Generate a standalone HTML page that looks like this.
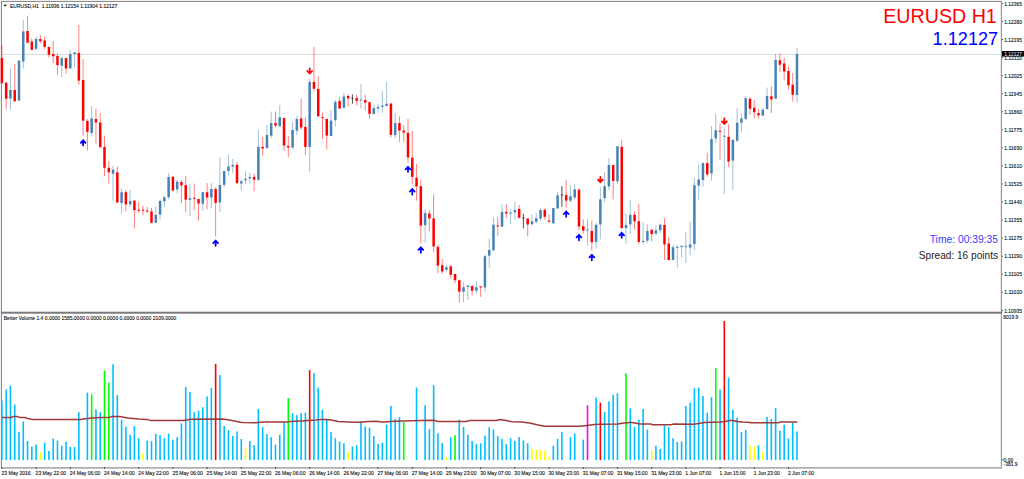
<!DOCTYPE html>
<html><head><meta charset="utf-8"><title>EURUSD H1</title>
<style>
html,body{margin:0;padding:0;background:#fff;width:1024px;height:479px;overflow:hidden;font-family:"Liberation Sans",sans-serif;}
svg{display:block;}
</style></head><body>
<svg width="1024" height="479" viewBox="0 0 1024 479" shape-rendering="auto">
<rect x="0" y="0" width="1024" height="479" fill="#ffffff"/>
<rect x="0" y="0" width="1002" height="1" fill="#f0f0f0"/>
<rect x="0" y="0" width="1" height="469" fill="#f0f0f0"/>
<rect x="1" y="1" width="1" height="467" fill="#8a8a8a"/>
<line x1="2" y1="54.4" x2="1001" y2="54.4" stroke="#d0d0d0" stroke-width="0.8"/>
<line x1="1.90" y1="45.00" x2="1.90" y2="84.00" stroke="#FF0000" stroke-opacity="0.5" stroke-width="1.0"/>
<line x1="6.17" y1="81.50" x2="6.17" y2="109.40" stroke="#FF0000" stroke-opacity="0.5" stroke-width="1.0"/>
<line x1="10.45" y1="67.75" x2="10.45" y2="109.40" stroke="#4682B4" stroke-opacity="0.5" stroke-width="1.0"/>
<line x1="14.72" y1="63.75" x2="14.72" y2="101.50" stroke="#FF0000" stroke-opacity="0.5" stroke-width="1.0"/>
<line x1="19.00" y1="60.60" x2="19.00" y2="100.60" stroke="#4682B4" stroke-opacity="0.5" stroke-width="1.0"/>
<line x1="23.27" y1="19.75" x2="23.27" y2="68.50" stroke="#4682B4" stroke-opacity="0.5" stroke-width="1.0"/>
<line x1="27.55" y1="16.25" x2="27.55" y2="43.00" stroke="#FF0000" stroke-opacity="0.5" stroke-width="1.0"/>
<line x1="31.82" y1="38.50" x2="31.82" y2="50.25" stroke="#FF0000" stroke-opacity="0.5" stroke-width="1.0"/>
<line x1="36.10" y1="36.90" x2="36.10" y2="50.25" stroke="#4682B4" stroke-opacity="0.5" stroke-width="1.0"/>
<line x1="40.37" y1="35.00" x2="40.37" y2="43.75" stroke="#FF0000" stroke-opacity="0.5" stroke-width="1.0"/>
<line x1="44.65" y1="36.90" x2="44.65" y2="49.40" stroke="#FF0000" stroke-opacity="0.5" stroke-width="1.0"/>
<line x1="48.92" y1="46.90" x2="48.92" y2="57.50" stroke="#FF0000" stroke-opacity="0.5" stroke-width="1.0"/>
<line x1="53.20" y1="41.00" x2="53.20" y2="63.10" stroke="#FF0000" stroke-opacity="0.5" stroke-width="1.0"/>
<line x1="57.47" y1="53.75" x2="57.47" y2="74.75" stroke="#FF0000" stroke-opacity="0.5" stroke-width="1.0"/>
<line x1="61.75" y1="56.25" x2="61.75" y2="76.90" stroke="#4682B4" stroke-opacity="0.5" stroke-width="1.0"/>
<line x1="66.02" y1="58.10" x2="66.02" y2="73.75" stroke="#FF0000" stroke-opacity="0.5" stroke-width="1.0"/>
<line x1="70.30" y1="50.00" x2="70.30" y2="68.50" stroke="#4682B4" stroke-opacity="0.5" stroke-width="1.0"/>
<line x1="74.57" y1="52.25" x2="74.57" y2="67.50" stroke="#4682B4" stroke-opacity="0.5" stroke-width="1.0"/>
<line x1="78.84" y1="25.00" x2="78.84" y2="84.40" stroke="#FF0000" stroke-opacity="0.5" stroke-width="1.0"/>
<line x1="83.12" y1="59.10" x2="83.12" y2="135.60" stroke="#FF0000" stroke-opacity="0.5" stroke-width="1.0"/>
<line x1="87.39" y1="119.00" x2="87.39" y2="150.60" stroke="#FF0000" stroke-opacity="0.5" stroke-width="1.0"/>
<line x1="91.67" y1="106.25" x2="91.67" y2="136.50" stroke="#4682B4" stroke-opacity="0.5" stroke-width="1.0"/>
<line x1="95.94" y1="108.75" x2="95.94" y2="143.50" stroke="#FF0000" stroke-opacity="0.5" stroke-width="1.0"/>
<line x1="100.22" y1="113.00" x2="100.22" y2="147.50" stroke="#FF0000" stroke-opacity="0.5" stroke-width="1.0"/>
<line x1="104.49" y1="135.60" x2="104.49" y2="176.00" stroke="#FF0000" stroke-opacity="0.5" stroke-width="1.0"/>
<line x1="108.77" y1="161.00" x2="108.77" y2="183.50" stroke="#FF0000" stroke-opacity="0.5" stroke-width="1.0"/>
<line x1="113.04" y1="165.60" x2="113.04" y2="200.60" stroke="#4682B4" stroke-opacity="0.5" stroke-width="1.0"/>
<line x1="117.32" y1="166.50" x2="117.32" y2="202.75" stroke="#FF0000" stroke-opacity="0.5" stroke-width="1.0"/>
<line x1="121.59" y1="188.50" x2="121.59" y2="213.50" stroke="#4682B4" stroke-opacity="0.5" stroke-width="1.0"/>
<line x1="125.87" y1="189.75" x2="125.87" y2="211.50" stroke="#FF0000" stroke-opacity="0.5" stroke-width="1.0"/>
<line x1="130.14" y1="190.00" x2="130.14" y2="207.00" stroke="#4682B4" stroke-opacity="0.5" stroke-width="1.0"/>
<line x1="134.42" y1="200.25" x2="134.42" y2="228.50" stroke="#FF0000" stroke-opacity="0.5" stroke-width="1.0"/>
<line x1="138.69" y1="201.90" x2="138.69" y2="213.10" stroke="#FF0000" stroke-opacity="0.5" stroke-width="1.0"/>
<line x1="142.97" y1="205.60" x2="142.97" y2="215.30" stroke="#FF0000" stroke-opacity="0.5" stroke-width="1.0"/>
<line x1="147.24" y1="206.90" x2="147.24" y2="213.10" stroke="#FF0000" stroke-opacity="0.5" stroke-width="1.0"/>
<line x1="151.51" y1="207.90" x2="151.51" y2="223.50" stroke="#FF0000" stroke-opacity="0.5" stroke-width="1.0"/>
<line x1="155.79" y1="206.10" x2="155.79" y2="223.00" stroke="#4682B4" stroke-opacity="0.5" stroke-width="1.0"/>
<line x1="160.06" y1="199.40" x2="160.06" y2="219.40" stroke="#4682B4" stroke-opacity="0.5" stroke-width="1.0"/>
<line x1="164.34" y1="196.50" x2="164.34" y2="206.70" stroke="#4682B4" stroke-opacity="0.5" stroke-width="1.0"/>
<line x1="168.61" y1="173.10" x2="168.61" y2="199.40" stroke="#4682B4" stroke-opacity="0.5" stroke-width="1.0"/>
<line x1="172.89" y1="176.70" x2="172.89" y2="191.25" stroke="#FF0000" stroke-opacity="0.5" stroke-width="1.0"/>
<line x1="177.16" y1="180.10" x2="177.16" y2="193.30" stroke="#4682B4" stroke-opacity="0.5" stroke-width="1.0"/>
<line x1="181.44" y1="179.90" x2="181.44" y2="203.10" stroke="#FF0000" stroke-opacity="0.5" stroke-width="1.0"/>
<line x1="185.71" y1="176.00" x2="185.71" y2="212.25" stroke="#FF0000" stroke-opacity="0.5" stroke-width="1.0"/>
<line x1="189.99" y1="184.20" x2="189.99" y2="216.25" stroke="#4682B4" stroke-opacity="0.5" stroke-width="1.0"/>
<line x1="194.26" y1="183.50" x2="194.26" y2="210.00" stroke="#FF0000" stroke-opacity="0.5" stroke-width="1.0"/>
<line x1="198.54" y1="198.75" x2="198.54" y2="220.60" stroke="#FF0000" stroke-opacity="0.5" stroke-width="1.0"/>
<line x1="202.81" y1="191.90" x2="202.81" y2="210.60" stroke="#4682B4" stroke-opacity="0.5" stroke-width="1.0"/>
<line x1="207.09" y1="183.10" x2="207.09" y2="209.40" stroke="#FF0000" stroke-opacity="0.5" stroke-width="1.0"/>
<line x1="211.36" y1="183.10" x2="211.36" y2="208.30" stroke="#4682B4" stroke-opacity="0.5" stroke-width="1.0"/>
<line x1="215.64" y1="187.25" x2="215.64" y2="236.25" stroke="#FF0000" stroke-opacity="0.5" stroke-width="1.0"/>
<line x1="219.91" y1="157.25" x2="219.91" y2="212.25" stroke="#4682B4" stroke-opacity="0.5" stroke-width="1.0"/>
<line x1="224.18" y1="171.00" x2="224.18" y2="187.25" stroke="#4682B4" stroke-opacity="0.5" stroke-width="1.0"/>
<line x1="228.46" y1="154.40" x2="228.46" y2="175.60" stroke="#4682B4" stroke-opacity="0.5" stroke-width="1.0"/>
<line x1="232.73" y1="159.00" x2="232.73" y2="173.50" stroke="#4682B4" stroke-opacity="0.5" stroke-width="1.0"/>
<line x1="237.01" y1="162.25" x2="237.01" y2="184.00" stroke="#FF0000" stroke-opacity="0.5" stroke-width="1.0"/>
<line x1="241.28" y1="179.40" x2="241.28" y2="190.60" stroke="#4682B4" stroke-opacity="0.5" stroke-width="1.0"/>
<line x1="245.56" y1="171.25" x2="245.56" y2="184.40" stroke="#4682B4" stroke-opacity="0.5" stroke-width="1.0"/>
<line x1="249.83" y1="172.50" x2="249.83" y2="183.50" stroke="#4682B4" stroke-opacity="0.5" stroke-width="1.0"/>
<line x1="254.11" y1="173.50" x2="254.11" y2="191.25" stroke="#FF0000" stroke-opacity="0.5" stroke-width="1.0"/>
<line x1="258.38" y1="130.00" x2="258.38" y2="181.25" stroke="#4682B4" stroke-opacity="0.5" stroke-width="1.0"/>
<line x1="262.66" y1="136.90" x2="262.66" y2="155.60" stroke="#FF0000" stroke-opacity="0.5" stroke-width="1.0"/>
<line x1="266.93" y1="125.00" x2="266.93" y2="148.50" stroke="#4682B4" stroke-opacity="0.5" stroke-width="1.0"/>
<line x1="271.21" y1="111.50" x2="271.21" y2="138.10" stroke="#4682B4" stroke-opacity="0.5" stroke-width="1.0"/>
<line x1="275.48" y1="111.50" x2="275.48" y2="127.50" stroke="#FF0000" stroke-opacity="0.5" stroke-width="1.0"/>
<line x1="279.76" y1="104.75" x2="279.76" y2="126.50" stroke="#4682B4" stroke-opacity="0.5" stroke-width="1.0"/>
<line x1="284.03" y1="117.75" x2="284.03" y2="150.60" stroke="#FF0000" stroke-opacity="0.5" stroke-width="1.0"/>
<line x1="288.30" y1="136.00" x2="288.30" y2="157.25" stroke="#FF0000" stroke-opacity="0.5" stroke-width="1.0"/>
<line x1="292.58" y1="121.90" x2="292.58" y2="149.00" stroke="#4682B4" stroke-opacity="0.5" stroke-width="1.0"/>
<line x1="296.85" y1="116.00" x2="296.85" y2="134.75" stroke="#4682B4" stroke-opacity="0.5" stroke-width="1.0"/>
<line x1="301.13" y1="98.75" x2="301.13" y2="129.40" stroke="#FF0000" stroke-opacity="0.5" stroke-width="1.0"/>
<line x1="305.40" y1="117.50" x2="305.40" y2="155.00" stroke="#FF0000" stroke-opacity="0.5" stroke-width="1.0"/>
<line x1="309.68" y1="78.10" x2="309.68" y2="172.20" stroke="#4682B4" stroke-opacity="0.5" stroke-width="1.0"/>
<line x1="313.95" y1="46.90" x2="313.95" y2="91.25" stroke="#FF0000" stroke-opacity="0.5" stroke-width="1.0"/>
<line x1="318.23" y1="76.25" x2="318.23" y2="117.00" stroke="#FF0000" stroke-opacity="0.5" stroke-width="1.0"/>
<line x1="322.50" y1="112.60" x2="322.50" y2="139.00" stroke="#FF0000" stroke-opacity="0.5" stroke-width="1.0"/>
<line x1="326.78" y1="118.75" x2="326.78" y2="149.40" stroke="#FF0000" stroke-opacity="0.5" stroke-width="1.0"/>
<line x1="331.05" y1="110.00" x2="331.05" y2="136.25" stroke="#4682B4" stroke-opacity="0.5" stroke-width="1.0"/>
<line x1="335.33" y1="100.00" x2="335.33" y2="126.50" stroke="#4682B4" stroke-opacity="0.5" stroke-width="1.0"/>
<line x1="339.60" y1="96.90" x2="339.60" y2="109.00" stroke="#FF0000" stroke-opacity="0.5" stroke-width="1.0"/>
<line x1="343.88" y1="92.75" x2="343.88" y2="108.00" stroke="#4682B4" stroke-opacity="0.5" stroke-width="1.0"/>
<line x1="348.15" y1="94.00" x2="348.15" y2="106.40" stroke="#FF0000" stroke-opacity="0.5" stroke-width="1.0"/>
<line x1="352.43" y1="94.40" x2="352.43" y2="103.75" stroke="#202020" stroke-opacity="0.8" stroke-width="1.0"/>
<line x1="356.70" y1="94.40" x2="356.70" y2="105.40" stroke="#FF0000" stroke-opacity="0.5" stroke-width="1.0"/>
<line x1="360.97" y1="84.00" x2="360.97" y2="108.50" stroke="#4682B4" stroke-opacity="0.5" stroke-width="1.0"/>
<line x1="365.25" y1="94.60" x2="365.25" y2="110.10" stroke="#FF0000" stroke-opacity="0.5" stroke-width="1.0"/>
<line x1="369.52" y1="101.90" x2="369.52" y2="118.75" stroke="#FF0000" stroke-opacity="0.5" stroke-width="1.0"/>
<line x1="373.80" y1="104.75" x2="373.80" y2="114.40" stroke="#4682B4" stroke-opacity="0.5" stroke-width="1.0"/>
<line x1="378.07" y1="103.50" x2="378.07" y2="112.75" stroke="#4682B4" stroke-opacity="0.5" stroke-width="1.0"/>
<line x1="382.35" y1="91.25" x2="382.35" y2="112.75" stroke="#4682B4" stroke-opacity="0.5" stroke-width="1.0"/>
<line x1="386.62" y1="81.90" x2="386.62" y2="106.25" stroke="#4682B4" stroke-opacity="0.5" stroke-width="1.0"/>
<line x1="390.90" y1="103.10" x2="390.90" y2="137.50" stroke="#FF0000" stroke-opacity="0.5" stroke-width="1.0"/>
<line x1="395.17" y1="112.75" x2="395.17" y2="138.50" stroke="#4682B4" stroke-opacity="0.5" stroke-width="1.0"/>
<line x1="399.45" y1="116.25" x2="399.45" y2="141.90" stroke="#FF0000" stroke-opacity="0.5" stroke-width="1.0"/>
<line x1="403.72" y1="125.25" x2="403.72" y2="141.90" stroke="#FF0000" stroke-opacity="0.5" stroke-width="1.0"/>
<line x1="408.00" y1="119.00" x2="408.00" y2="162.50" stroke="#FF0000" stroke-opacity="0.5" stroke-width="1.0"/>
<line x1="412.27" y1="131.00" x2="412.27" y2="184.60" stroke="#FF0000" stroke-opacity="0.5" stroke-width="1.0"/>
<line x1="416.55" y1="164.00" x2="416.55" y2="200.60" stroke="#FF0000" stroke-opacity="0.5" stroke-width="1.0"/>
<line x1="420.82" y1="180.00" x2="420.82" y2="243.50" stroke="#FF0000" stroke-opacity="0.5" stroke-width="1.0"/>
<line x1="425.10" y1="209.00" x2="425.10" y2="242.50" stroke="#4682B4" stroke-opacity="0.5" stroke-width="1.0"/>
<line x1="429.37" y1="210.00" x2="429.37" y2="231.25" stroke="#FF0000" stroke-opacity="0.5" stroke-width="1.0"/>
<line x1="433.64" y1="194.40" x2="433.64" y2="252.25" stroke="#FF0000" stroke-opacity="0.5" stroke-width="1.0"/>
<line x1="437.92" y1="245.25" x2="437.92" y2="273.10" stroke="#FF0000" stroke-opacity="0.5" stroke-width="1.0"/>
<line x1="442.19" y1="259.00" x2="442.19" y2="274.00" stroke="#FF0000" stroke-opacity="0.5" stroke-width="1.0"/>
<line x1="446.47" y1="265.00" x2="446.47" y2="272.25" stroke="#4682B4" stroke-opacity="0.5" stroke-width="1.0"/>
<line x1="450.74" y1="265.25" x2="450.74" y2="278.50" stroke="#FF0000" stroke-opacity="0.5" stroke-width="1.0"/>
<line x1="455.02" y1="273.75" x2="455.02" y2="283.50" stroke="#FF0000" stroke-opacity="0.5" stroke-width="1.0"/>
<line x1="459.29" y1="279.75" x2="459.29" y2="302.50" stroke="#FF0000" stroke-opacity="0.5" stroke-width="1.0"/>
<line x1="463.57" y1="281.90" x2="463.57" y2="302.50" stroke="#4682B4" stroke-opacity="0.5" stroke-width="1.0"/>
<line x1="467.84" y1="285.25" x2="467.84" y2="299.75" stroke="#4682B4" stroke-opacity="0.5" stroke-width="1.0"/>
<line x1="472.12" y1="285.25" x2="472.12" y2="295.60" stroke="#FF0000" stroke-opacity="0.5" stroke-width="1.0"/>
<line x1="476.39" y1="281.00" x2="476.39" y2="293.75" stroke="#4682B4" stroke-opacity="0.5" stroke-width="1.0"/>
<line x1="480.67" y1="286.25" x2="480.67" y2="296.90" stroke="#FF0000" stroke-opacity="0.5" stroke-width="1.0"/>
<line x1="484.94" y1="255.00" x2="484.94" y2="291.50" stroke="#4682B4" stroke-opacity="0.5" stroke-width="1.0"/>
<line x1="489.22" y1="239.00" x2="489.22" y2="267.75" stroke="#4682B4" stroke-opacity="0.5" stroke-width="1.0"/>
<line x1="493.49" y1="216.90" x2="493.49" y2="251.00" stroke="#4682B4" stroke-opacity="0.5" stroke-width="1.0"/>
<line x1="497.77" y1="217.50" x2="497.77" y2="235.50" stroke="#FF0000" stroke-opacity="0.5" stroke-width="1.0"/>
<line x1="502.04" y1="204.40" x2="502.04" y2="227.00" stroke="#4682B4" stroke-opacity="0.5" stroke-width="1.0"/>
<line x1="506.31" y1="204.00" x2="506.31" y2="217.90" stroke="#FF0000" stroke-opacity="0.5" stroke-width="1.0"/>
<line x1="510.59" y1="209.00" x2="510.59" y2="224.40" stroke="#4682B4" stroke-opacity="0.5" stroke-width="1.0"/>
<line x1="514.86" y1="201.90" x2="514.86" y2="220.00" stroke="#4682B4" stroke-opacity="0.5" stroke-width="1.0"/>
<line x1="519.14" y1="205.00" x2="519.14" y2="218.10" stroke="#FF0000" stroke-opacity="0.5" stroke-width="1.0"/>
<line x1="523.41" y1="213.75" x2="523.41" y2="228.40" stroke="#202020" stroke-opacity="0.8" stroke-width="1.0"/>
<line x1="527.69" y1="218.10" x2="527.69" y2="236.30" stroke="#FF0000" stroke-opacity="0.5" stroke-width="1.0"/>
<line x1="531.96" y1="214.75" x2="531.96" y2="224.60" stroke="#4682B4" stroke-opacity="0.5" stroke-width="1.0"/>
<line x1="536.24" y1="213.10" x2="536.24" y2="223.40" stroke="#4682B4" stroke-opacity="0.5" stroke-width="1.0"/>
<line x1="540.51" y1="208.10" x2="540.51" y2="221.20" stroke="#4682B4" stroke-opacity="0.5" stroke-width="1.0"/>
<line x1="544.79" y1="208.50" x2="544.79" y2="219.50" stroke="#FF0000" stroke-opacity="0.5" stroke-width="1.0"/>
<line x1="549.06" y1="214.50" x2="549.06" y2="222.50" stroke="#FF0000" stroke-opacity="0.5" stroke-width="1.0"/>
<line x1="553.34" y1="208.10" x2="553.34" y2="223.40" stroke="#4682B4" stroke-opacity="0.5" stroke-width="1.0"/>
<line x1="557.61" y1="191.90" x2="557.61" y2="208.50" stroke="#4682B4" stroke-opacity="0.5" stroke-width="1.0"/>
<line x1="561.89" y1="186.10" x2="561.89" y2="206.90" stroke="#202020" stroke-opacity="0.8" stroke-width="1.0"/>
<line x1="566.16" y1="180.00" x2="566.16" y2="207.75" stroke="#FF0000" stroke-opacity="0.5" stroke-width="1.0"/>
<line x1="570.44" y1="185.10" x2="570.44" y2="202.50" stroke="#4682B4" stroke-opacity="0.5" stroke-width="1.0"/>
<line x1="574.71" y1="183.60" x2="574.71" y2="199.40" stroke="#4682B4" stroke-opacity="0.5" stroke-width="1.0"/>
<line x1="578.98" y1="187.90" x2="578.98" y2="230.60" stroke="#FF0000" stroke-opacity="0.5" stroke-width="1.0"/>
<line x1="583.26" y1="219.20" x2="583.26" y2="233.60" stroke="#FF0000" stroke-opacity="0.5" stroke-width="1.0"/>
<line x1="587.53" y1="219.40" x2="587.53" y2="245.60" stroke="#4682B4" stroke-opacity="0.5" stroke-width="1.0"/>
<line x1="591.81" y1="220.60" x2="591.81" y2="250.60" stroke="#FF0000" stroke-opacity="0.5" stroke-width="1.0"/>
<line x1="596.08" y1="222.75" x2="596.08" y2="248.50" stroke="#4682B4" stroke-opacity="0.5" stroke-width="1.0"/>
<line x1="600.36" y1="186.90" x2="600.36" y2="239.40" stroke="#4682B4" stroke-opacity="0.5" stroke-width="1.0"/>
<line x1="604.63" y1="171.90" x2="604.63" y2="202.25" stroke="#4682B4" stroke-opacity="0.5" stroke-width="1.0"/>
<line x1="608.91" y1="158.10" x2="608.91" y2="190.00" stroke="#4682B4" stroke-opacity="0.5" stroke-width="1.0"/>
<line x1="613.18" y1="165.00" x2="613.18" y2="199.40" stroke="#FF0000" stroke-opacity="0.5" stroke-width="1.0"/>
<line x1="617.46" y1="146.00" x2="617.46" y2="184.00" stroke="#4682B4" stroke-opacity="0.5" stroke-width="1.0"/>
<line x1="621.73" y1="139.75" x2="621.73" y2="229.00" stroke="#FF0000" stroke-opacity="0.5" stroke-width="1.0"/>
<line x1="626.01" y1="213.75" x2="626.01" y2="243.50" stroke="#4682B4" stroke-opacity="0.5" stroke-width="1.0"/>
<line x1="630.28" y1="200.00" x2="630.28" y2="234.00" stroke="#4682B4" stroke-opacity="0.5" stroke-width="1.0"/>
<line x1="634.56" y1="211.30" x2="634.56" y2="229.75" stroke="#FF0000" stroke-opacity="0.5" stroke-width="1.0"/>
<line x1="638.83" y1="204.00" x2="638.83" y2="244.40" stroke="#FF0000" stroke-opacity="0.5" stroke-width="1.0"/>
<line x1="643.11" y1="222.25" x2="643.11" y2="244.40" stroke="#4682B4" stroke-opacity="0.5" stroke-width="1.0"/>
<line x1="647.38" y1="224.40" x2="647.38" y2="243.10" stroke="#4682B4" stroke-opacity="0.5" stroke-width="1.0"/>
<line x1="651.65" y1="229.40" x2="651.65" y2="241.50" stroke="#FF0000" stroke-opacity="0.5" stroke-width="1.0"/>
<line x1="655.93" y1="225.25" x2="655.93" y2="235.25" stroke="#4682B4" stroke-opacity="0.5" stroke-width="1.0"/>
<line x1="660.20" y1="223.50" x2="660.20" y2="232.75" stroke="#4682B4" stroke-opacity="0.5" stroke-width="1.0"/>
<line x1="664.48" y1="218.10" x2="664.48" y2="260.00" stroke="#FF0000" stroke-opacity="0.5" stroke-width="1.0"/>
<line x1="668.75" y1="237.25" x2="668.75" y2="260.60" stroke="#FF0000" stroke-opacity="0.5" stroke-width="1.0"/>
<line x1="673.03" y1="244.75" x2="673.03" y2="260.25" stroke="#4682B4" stroke-opacity="0.5" stroke-width="1.0"/>
<line x1="677.30" y1="245.20" x2="677.30" y2="267.60" stroke="#4682B4" stroke-opacity="0.5" stroke-width="1.0"/>
<line x1="681.58" y1="245.25" x2="681.58" y2="257.50" stroke="#4682B4" stroke-opacity="0.5" stroke-width="1.0"/>
<line x1="685.85" y1="231.90" x2="685.85" y2="263.10" stroke="#4682B4" stroke-opacity="0.5" stroke-width="1.0"/>
<line x1="690.13" y1="221.90" x2="690.13" y2="255.60" stroke="#4682B4" stroke-opacity="0.5" stroke-width="1.0"/>
<line x1="694.40" y1="177.75" x2="694.40" y2="250.25" stroke="#4682B4" stroke-opacity="0.5" stroke-width="1.0"/>
<line x1="698.68" y1="164.75" x2="698.68" y2="199.75" stroke="#4682B4" stroke-opacity="0.5" stroke-width="1.0"/>
<line x1="702.95" y1="162.50" x2="702.95" y2="186.50" stroke="#4682B4" stroke-opacity="0.5" stroke-width="1.0"/>
<line x1="707.23" y1="152.75" x2="707.23" y2="176.90" stroke="#FF0000" stroke-opacity="0.5" stroke-width="1.0"/>
<line x1="711.50" y1="126.00" x2="711.50" y2="180.60" stroke="#4682B4" stroke-opacity="0.5" stroke-width="1.0"/>
<line x1="715.77" y1="113.75" x2="715.77" y2="143.10" stroke="#4682B4" stroke-opacity="0.5" stroke-width="1.0"/>
<line x1="720.05" y1="123.50" x2="720.05" y2="159.75" stroke="#FF0000" stroke-opacity="0.5" stroke-width="1.0"/>
<line x1="724.32" y1="128.75" x2="724.32" y2="193.75" stroke="#4682B4" stroke-opacity="0.5" stroke-width="1.0"/>
<line x1="728.60" y1="124.40" x2="728.60" y2="166.90" stroke="#FF0000" stroke-opacity="0.5" stroke-width="1.0"/>
<line x1="732.87" y1="139.50" x2="732.87" y2="190.25" stroke="#4682B4" stroke-opacity="0.5" stroke-width="1.0"/>
<line x1="737.15" y1="107.75" x2="737.15" y2="141.90" stroke="#4682B4" stroke-opacity="0.5" stroke-width="1.0"/>
<line x1="741.42" y1="113.10" x2="741.42" y2="132.25" stroke="#4682B4" stroke-opacity="0.5" stroke-width="1.0"/>
<line x1="745.70" y1="96.00" x2="745.70" y2="120.00" stroke="#4682B4" stroke-opacity="0.5" stroke-width="1.0"/>
<line x1="749.97" y1="97.25" x2="749.97" y2="114.75" stroke="#FF0000" stroke-opacity="0.5" stroke-width="1.0"/>
<line x1="754.25" y1="100.00" x2="754.25" y2="118.50" stroke="#FF0000" stroke-opacity="0.5" stroke-width="1.0"/>
<line x1="758.52" y1="109.00" x2="758.52" y2="118.50" stroke="#FF0000" stroke-opacity="0.5" stroke-width="1.0"/>
<line x1="762.80" y1="108.10" x2="762.80" y2="116.00" stroke="#4682B4" stroke-opacity="0.5" stroke-width="1.0"/>
<line x1="767.07" y1="87.50" x2="767.07" y2="109.75" stroke="#4682B4" stroke-opacity="0.5" stroke-width="1.0"/>
<line x1="771.35" y1="86.00" x2="771.35" y2="113.10" stroke="#FF0000" stroke-opacity="0.5" stroke-width="1.0"/>
<line x1="775.62" y1="54.00" x2="775.62" y2="98.75" stroke="#4682B4" stroke-opacity="0.5" stroke-width="1.0"/>
<line x1="779.90" y1="53.10" x2="779.90" y2="72.25" stroke="#FF0000" stroke-opacity="0.5" stroke-width="1.0"/>
<line x1="784.17" y1="57.75" x2="784.17" y2="80.60" stroke="#FF0000" stroke-opacity="0.5" stroke-width="1.0"/>
<line x1="788.44" y1="66.50" x2="788.44" y2="89.75" stroke="#FF0000" stroke-opacity="0.5" stroke-width="1.0"/>
<line x1="792.72" y1="73.10" x2="792.72" y2="101.50" stroke="#FF0000" stroke-opacity="0.5" stroke-width="1.0"/>
<line x1="796.99" y1="48.10" x2="796.99" y2="102.25" stroke="#4682B4" stroke-opacity="0.5" stroke-width="1.0"/>
<rect x="0.65" y="58.10" width="2.5" height="25.00" fill="#FF0000"/>
<rect x="4.92" y="82.75" width="2.5" height="16.00" fill="#FF0000"/>
<rect x="9.20" y="90.00" width="2.5" height="8.50" fill="#4682B4"/>
<rect x="13.47" y="90.00" width="2.5" height="11.25" fill="#FF0000"/>
<rect x="17.75" y="60.60" width="2.5" height="40.00" fill="#4682B4"/>
<rect x="22.02" y="31.50" width="2.5" height="30.00" fill="#4682B4"/>
<rect x="26.30" y="31.00" width="2.5" height="11.75" fill="#FF0000"/>
<rect x="30.57" y="41.60" width="2.5" height="8.15" fill="#FF0000"/>
<rect x="34.85" y="39.00" width="2.5" height="9.75" fill="#4682B4"/>
<rect x="39.12" y="39.00" width="2.5" height="2.25" fill="#FF0000"/>
<rect x="43.40" y="40.40" width="2.5" height="6.50" fill="#FF0000"/>
<rect x="47.67" y="46.90" width="2.5" height="7.85" fill="#FF0000"/>
<rect x="51.95" y="54.00" width="2.5" height="2.25" fill="#FF0000"/>
<rect x="56.22" y="56.00" width="2.5" height="9.00" fill="#FF0000"/>
<rect x="60.50" y="58.10" width="2.5" height="7.50" fill="#4682B4"/>
<rect x="64.77" y="58.10" width="2.5" height="10.40" fill="#FF0000"/>
<rect x="69.05" y="54.00" width="2.5" height="14.50" fill="#4682B4"/>
<rect x="73.32" y="52.25" width="2.5" height="1.75" fill="#4682B4"/>
<rect x="77.59" y="52.90" width="2.5" height="27.70" fill="#FF0000"/>
<rect x="81.87" y="80.00" width="2.5" height="40.60" fill="#FF0000"/>
<rect x="86.14" y="121.00" width="2.5" height="10.90" fill="#FF0000"/>
<rect x="90.42" y="118.50" width="2.5" height="14.60" fill="#4682B4"/>
<rect x="94.69" y="119.00" width="2.5" height="3.50" fill="#FF0000"/>
<rect x="98.97" y="122.50" width="2.5" height="24.75" fill="#FF0000"/>
<rect x="103.24" y="146.90" width="2.5" height="20.85" fill="#FF0000"/>
<rect x="107.52" y="167.75" width="2.5" height="4.50" fill="#FF0000"/>
<rect x="111.79" y="169.75" width="2.5" height="4.00" fill="#4682B4"/>
<rect x="116.07" y="172.25" width="2.5" height="30.25" fill="#FF0000"/>
<rect x="120.34" y="192.25" width="2.5" height="10.85" fill="#4682B4"/>
<rect x="124.62" y="192.25" width="2.5" height="12.15" fill="#FF0000"/>
<rect x="128.89" y="201.00" width="2.5" height="3.40" fill="#4682B4"/>
<rect x="133.17" y="200.60" width="2.5" height="9.40" fill="#FF0000"/>
<rect x="137.44" y="209.68" width="2.5" height="1.00" fill="#FF0000"/>
<rect x="141.72" y="209.68" width="2.5" height="1.00" fill="#FF0000"/>
<rect x="145.99" y="210.55" width="2.5" height="1.00" fill="#FF0000"/>
<rect x="150.26" y="211.40" width="2.5" height="11.35" fill="#FF0000"/>
<rect x="154.54" y="214.90" width="2.5" height="7.85" fill="#4682B4"/>
<rect x="158.81" y="201.00" width="2.5" height="13.60" fill="#4682B4"/>
<rect x="163.09" y="197.10" width="2.5" height="4.15" fill="#4682B4"/>
<rect x="167.36" y="177.00" width="2.5" height="20.25" fill="#4682B4"/>
<rect x="171.64" y="176.70" width="2.5" height="13.80" fill="#FF0000"/>
<rect x="175.91" y="181.70" width="2.5" height="7.70" fill="#4682B4"/>
<rect x="180.19" y="182.00" width="2.5" height="3.40" fill="#FF0000"/>
<rect x="184.46" y="185.10" width="2.5" height="14.50" fill="#FF0000"/>
<rect x="188.74" y="198.10" width="2.5" height="1.65" fill="#4682B4"/>
<rect x="193.01" y="197.82" width="2.5" height="1.00" fill="#FF0000"/>
<rect x="197.29" y="199.10" width="2.5" height="4.40" fill="#FF0000"/>
<rect x="201.56" y="192.25" width="2.5" height="11.50" fill="#4682B4"/>
<rect x="205.84" y="192.25" width="2.5" height="5.25" fill="#FF0000"/>
<rect x="210.11" y="189.00" width="2.5" height="8.50" fill="#4682B4"/>
<rect x="214.39" y="189.00" width="2.5" height="13.90" fill="#FF0000"/>
<rect x="218.66" y="185.00" width="2.5" height="17.40" fill="#4682B4"/>
<rect x="222.93" y="171.00" width="2.5" height="13.75" fill="#4682B4"/>
<rect x="227.21" y="166.50" width="2.5" height="4.50" fill="#4682B4"/>
<rect x="231.48" y="165.00" width="2.5" height="1.50" fill="#4682B4"/>
<rect x="235.76" y="164.75" width="2.5" height="18.35" fill="#FF0000"/>
<rect x="240.03" y="181.25" width="2.5" height="2.25" fill="#4682B4"/>
<rect x="244.31" y="178.75" width="2.5" height="1.50" fill="#4682B4"/>
<rect x="248.58" y="176.90" width="2.5" height="1.60" fill="#4682B4"/>
<rect x="252.86" y="176.90" width="2.5" height="2.85" fill="#FF0000"/>
<rect x="257.13" y="146.90" width="2.5" height="32.85" fill="#4682B4"/>
<rect x="261.41" y="146.90" width="2.5" height="1.60" fill="#FF0000"/>
<rect x="265.68" y="135.00" width="2.5" height="13.10" fill="#4682B4"/>
<rect x="269.96" y="123.10" width="2.5" height="12.50" fill="#4682B4"/>
<rect x="274.23" y="123.10" width="2.5" height="2.50" fill="#FF0000"/>
<rect x="278.51" y="117.25" width="2.5" height="9.00" fill="#4682B4"/>
<rect x="282.78" y="118.10" width="2.5" height="27.50" fill="#FF0000"/>
<rect x="287.05" y="146.00" width="2.5" height="1.50" fill="#FF0000"/>
<rect x="291.33" y="130.00" width="2.5" height="17.50" fill="#4682B4"/>
<rect x="295.60" y="119.00" width="2.5" height="11.60" fill="#4682B4"/>
<rect x="299.88" y="118.50" width="2.5" height="9.00" fill="#FF0000"/>
<rect x="304.15" y="126.90" width="2.5" height="20.00" fill="#FF0000"/>
<rect x="308.43" y="81.90" width="2.5" height="65.00" fill="#4682B4"/>
<rect x="312.70" y="81.90" width="2.5" height="6.85" fill="#FF0000"/>
<rect x="316.98" y="89.00" width="2.5" height="27.25" fill="#FF0000"/>
<rect x="321.25" y="117.20" width="2.5" height="1.00" fill="#FF0000"/>
<rect x="325.53" y="119.00" width="2.5" height="16.60" fill="#FF0000"/>
<rect x="329.80" y="120.60" width="2.5" height="15.40" fill="#4682B4"/>
<rect x="334.08" y="101.90" width="2.5" height="18.35" fill="#4682B4"/>
<rect x="338.35" y="101.00" width="2.5" height="7.50" fill="#FF0000"/>
<rect x="342.63" y="96.50" width="2.5" height="11.25" fill="#4682B4"/>
<rect x="346.90" y="96.00" width="2.5" height="2.50" fill="#FF0000"/>
<line x1="351.23" y1="98.40" x2="353.63" y2="98.40" stroke="#202020" stroke-width="0.7"/>
<rect x="355.45" y="98.10" width="2.5" height="2.70" fill="#FF0000"/>
<rect x="359.72" y="99.50" width="2.5" height="1.00" fill="#4682B4"/>
<rect x="364.00" y="100.10" width="2.5" height="2.50" fill="#FF0000"/>
<rect x="368.27" y="102.25" width="2.5" height="11.50" fill="#FF0000"/>
<rect x="372.55" y="108.10" width="2.5" height="5.90" fill="#4682B4"/>
<rect x="376.82" y="106.90" width="2.5" height="1.60" fill="#4682B4"/>
<rect x="381.10" y="105.60" width="2.5" height="1.30" fill="#4682B4"/>
<rect x="385.37" y="103.75" width="2.5" height="2.25" fill="#4682B4"/>
<rect x="389.65" y="103.50" width="2.5" height="31.25" fill="#FF0000"/>
<rect x="393.92" y="123.10" width="2.5" height="11.90" fill="#4682B4"/>
<rect x="398.20" y="123.10" width="2.5" height="7.50" fill="#FF0000"/>
<rect x="402.47" y="130.60" width="2.5" height="1.90" fill="#FF0000"/>
<rect x="406.75" y="132.75" width="2.5" height="24.75" fill="#FF0000"/>
<rect x="411.02" y="157.75" width="2.5" height="19.15" fill="#FF0000"/>
<rect x="415.30" y="177.75" width="2.5" height="8.50" fill="#FF0000"/>
<rect x="419.57" y="186.25" width="2.5" height="39.35" fill="#FF0000"/>
<rect x="423.85" y="213.10" width="2.5" height="12.15" fill="#4682B4"/>
<rect x="428.12" y="213.50" width="2.5" height="5.00" fill="#FF0000"/>
<rect x="432.39" y="218.50" width="2.5" height="28.00" fill="#FF0000"/>
<rect x="436.67" y="246.90" width="2.5" height="18.70" fill="#FF0000"/>
<rect x="440.94" y="265.25" width="2.5" height="6.25" fill="#FF0000"/>
<rect x="445.22" y="267.25" width="2.5" height="2.50" fill="#4682B4"/>
<rect x="449.49" y="266.25" width="2.5" height="8.50" fill="#FF0000"/>
<rect x="453.77" y="274.00" width="2.5" height="6.25" fill="#FF0000"/>
<rect x="458.04" y="280.25" width="2.5" height="11.45" fill="#FF0000"/>
<rect x="462.32" y="287.25" width="2.5" height="4.45" fill="#4682B4"/>
<rect x="466.59" y="285.60" width="2.5" height="1.40" fill="#4682B4"/>
<rect x="470.87" y="286.00" width="2.5" height="4.60" fill="#FF0000"/>
<rect x="475.14" y="287.25" width="2.5" height="3.35" fill="#4682B4"/>
<rect x="479.42" y="286.38" width="2.5" height="1.00" fill="#FF0000"/>
<rect x="483.69" y="256.25" width="2.5" height="31.25" fill="#4682B4"/>
<rect x="487.97" y="250.00" width="2.5" height="5.60" fill="#4682B4"/>
<rect x="492.24" y="224.75" width="2.5" height="25.50" fill="#4682B4"/>
<rect x="496.52" y="225.40" width="2.5" height="1.00" fill="#FF0000"/>
<rect x="500.79" y="212.00" width="2.5" height="14.70" fill="#4682B4"/>
<rect x="505.06" y="211.90" width="2.5" height="1.60" fill="#FF0000"/>
<rect x="509.34" y="212.60" width="2.5" height="1.00" fill="#4682B4"/>
<rect x="513.61" y="210.00" width="2.5" height="2.25" fill="#4682B4"/>
<rect x="517.89" y="209.00" width="2.5" height="8.80" fill="#FF0000"/>
<line x1="522.21" y1="218.00" x2="524.61" y2="218.00" stroke="#202020" stroke-width="0.7"/>
<rect x="526.44" y="218.50" width="2.5" height="6.00" fill="#FF0000"/>
<rect x="530.71" y="221.30" width="2.5" height="3.00" fill="#4682B4"/>
<rect x="534.99" y="218.20" width="2.5" height="3.60" fill="#4682B4"/>
<rect x="539.26" y="210.00" width="2.5" height="8.50" fill="#4682B4"/>
<rect x="543.54" y="209.75" width="2.5" height="7.05" fill="#FF0000"/>
<rect x="547.81" y="220.50" width="2.5" height="1.20" fill="#FF0000"/>
<rect x="552.09" y="208.10" width="2.5" height="15.20" fill="#4682B4"/>
<rect x="556.36" y="195.25" width="2.5" height="13.25" fill="#4682B4"/>
<line x1="560.69" y1="195.00" x2="563.09" y2="195.00" stroke="#202020" stroke-width="0.7"/>
<rect x="564.91" y="195.00" width="2.5" height="5.60" fill="#FF0000"/>
<rect x="569.19" y="196.25" width="2.5" height="4.35" fill="#4682B4"/>
<rect x="573.46" y="189.40" width="2.5" height="8.10" fill="#4682B4"/>
<rect x="577.73" y="189.75" width="2.5" height="36.75" fill="#FF0000"/>
<rect x="582.01" y="226.25" width="2.5" height="4.35" fill="#FF0000"/>
<rect x="586.28" y="229.50" width="2.5" height="1.00" fill="#4682B4"/>
<rect x="590.56" y="231.00" width="2.5" height="11.25" fill="#FF0000"/>
<rect x="594.83" y="224.75" width="2.5" height="17.15" fill="#4682B4"/>
<rect x="599.11" y="199.40" width="2.5" height="25.00" fill="#4682B4"/>
<rect x="603.38" y="186.10" width="2.5" height="12.00" fill="#4682B4"/>
<rect x="607.66" y="165.00" width="2.5" height="21.40" fill="#4682B4"/>
<rect x="611.93" y="165.00" width="2.5" height="16.00" fill="#FF0000"/>
<rect x="616.21" y="146.25" width="2.5" height="35.15" fill="#4682B4"/>
<rect x="620.48" y="146.90" width="2.5" height="81.20" fill="#FF0000"/>
<rect x="624.76" y="225.00" width="2.5" height="3.10" fill="#4682B4"/>
<rect x="629.03" y="214.75" width="2.5" height="9.65" fill="#4682B4"/>
<rect x="633.31" y="214.75" width="2.5" height="6.50" fill="#FF0000"/>
<rect x="637.58" y="221.25" width="2.5" height="20.65" fill="#FF0000"/>
<rect x="641.86" y="240.80" width="2.5" height="1.10" fill="#4682B4"/>
<rect x="646.13" y="231.00" width="2.5" height="9.60" fill="#4682B4"/>
<rect x="650.40" y="229.75" width="2.5" height="4.25" fill="#FF0000"/>
<rect x="654.68" y="230.25" width="2.5" height="3.25" fill="#4682B4"/>
<rect x="658.95" y="224.75" width="2.5" height="5.50" fill="#4682B4"/>
<rect x="663.23" y="225.00" width="2.5" height="19.40" fill="#FF0000"/>
<rect x="667.50" y="243.50" width="2.5" height="16.50" fill="#FF0000"/>
<rect x="671.78" y="247.25" width="2.5" height="12.75" fill="#4682B4"/>
<rect x="676.05" y="246.80" width="2.5" height="1.00" fill="#4682B4"/>
<rect x="680.33" y="246.00" width="2.5" height="1.00" fill="#4682B4"/>
<rect x="684.60" y="245.75" width="2.5" height="1.00" fill="#4682B4"/>
<rect x="688.88" y="244.40" width="2.5" height="3.10" fill="#4682B4"/>
<rect x="693.15" y="185.25" width="2.5" height="58.75" fill="#4682B4"/>
<rect x="697.43" y="179.40" width="2.5" height="6.20" fill="#4682B4"/>
<rect x="701.70" y="163.10" width="2.5" height="16.90" fill="#4682B4"/>
<rect x="705.98" y="163.10" width="2.5" height="11.30" fill="#FF0000"/>
<rect x="710.25" y="139.00" width="2.5" height="34.50" fill="#4682B4"/>
<rect x="714.52" y="130.25" width="2.5" height="8.25" fill="#4682B4"/>
<rect x="718.80" y="130.75" width="2.5" height="1.00" fill="#FF0000"/>
<rect x="723.07" y="135.75" width="2.5" height="1.00" fill="#4682B4"/>
<rect x="727.35" y="136.90" width="2.5" height="24.60" fill="#FF0000"/>
<rect x="731.62" y="139.75" width="2.5" height="20.85" fill="#4682B4"/>
<rect x="735.90" y="122.75" width="2.5" height="17.85" fill="#4682B4"/>
<rect x="740.17" y="118.50" width="2.5" height="4.25" fill="#4682B4"/>
<rect x="744.45" y="98.10" width="2.5" height="20.65" fill="#4682B4"/>
<rect x="748.72" y="98.75" width="2.5" height="10.00" fill="#FF0000"/>
<rect x="753.00" y="107.75" width="2.5" height="4.50" fill="#FF0000"/>
<rect x="757.27" y="113.10" width="2.5" height="2.15" fill="#FF0000"/>
<rect x="761.55" y="109.75" width="2.5" height="5.85" fill="#4682B4"/>
<rect x="765.82" y="96.00" width="2.5" height="13.00" fill="#4682B4"/>
<rect x="770.10" y="96.25" width="2.5" height="3.15" fill="#FF0000"/>
<rect x="774.37" y="60.00" width="2.5" height="38.60" fill="#4682B4"/>
<rect x="778.65" y="60.25" width="2.5" height="4.50" fill="#FF0000"/>
<rect x="782.92" y="63.50" width="2.5" height="8.00" fill="#FF0000"/>
<rect x="787.19" y="71.00" width="2.5" height="14.25" fill="#FF0000"/>
<rect x="791.47" y="84.75" width="2.5" height="10.00" fill="#FF0000"/>
<rect x="795.74" y="54.00" width="2.5" height="41.00" fill="#4682B4"/>
<path d="M80.72,142.80 L83.12,140.30 L85.52,142.80 M83.12,140.20 L83.12,145.30" fill="none" stroke="#0000ff" stroke-width="1.8" stroke-linecap="round" stroke-linejoin="round"/>
<path d="M213.24,243.15 L215.64,240.65 L218.04,243.15 M215.64,240.55 L215.64,245.80" fill="none" stroke="#0000ff" stroke-width="1.8" stroke-linecap="round" stroke-linejoin="round"/>
<path d="M405.60,169.40 L408.00,166.90 L410.40,169.40 M408.00,166.80 L408.00,171.80" fill="none" stroke="#0000ff" stroke-width="1.8" stroke-linecap="round" stroke-linejoin="round"/>
<path d="M409.87,191.50 L412.27,189.00 L414.67,191.50 M412.27,188.90 L412.27,194.55" fill="none" stroke="#0000ff" stroke-width="1.8" stroke-linecap="round" stroke-linejoin="round"/>
<path d="M418.42,249.90 L420.82,247.40 L423.22,249.90 M420.82,247.30 L420.82,252.80" fill="none" stroke="#0000ff" stroke-width="1.8" stroke-linecap="round" stroke-linejoin="round"/>
<path d="M563.76,214.00 L566.16,211.50 L568.56,214.00 M566.16,211.40 L566.16,216.80" fill="none" stroke="#0000ff" stroke-width="1.8" stroke-linecap="round" stroke-linejoin="round"/>
<path d="M576.58,237.40 L578.98,234.90 L581.38,237.40 M578.98,234.80 L578.98,240.30" fill="none" stroke="#0000ff" stroke-width="1.8" stroke-linecap="round" stroke-linejoin="round"/>
<path d="M589.41,257.40 L591.81,254.90 L594.21,257.40 M591.81,254.80 L591.81,260.30" fill="none" stroke="#0000ff" stroke-width="1.8" stroke-linecap="round" stroke-linejoin="round"/>
<path d="M619.33,235.30 L621.73,232.80 L624.13,235.30 M621.73,232.70 L621.73,237.80" fill="none" stroke="#0000ff" stroke-width="1.8" stroke-linecap="round" stroke-linejoin="round"/>
<path d="M307.28,71.00 L309.68,73.50 L312.08,71.00 M309.68,73.60 L309.68,68.45" fill="none" stroke="#ff0000" stroke-width="1.8" stroke-linecap="round" stroke-linejoin="round"/>
<path d="M597.96,179.70 L600.36,182.20 L602.76,179.70 M600.36,182.30 L600.36,176.95" fill="none" stroke="#ff0000" stroke-width="1.8" stroke-linecap="round" stroke-linejoin="round"/>
<path d="M721.92,121.35 L724.32,123.85 L726.72,121.35 M724.32,123.95 L724.32,118.45" fill="none" stroke="#ff0000" stroke-width="1.8" stroke-linecap="round" stroke-linejoin="round"/>
<rect x="1.10" y="400.60" width="1.6" height="59.50" fill="#00BFFF"/>
<rect x="5.37" y="389.40" width="1.6" height="70.70" fill="#00BFFF"/>
<rect x="9.65" y="385.60" width="1.6" height="74.50" fill="#00BFFF"/>
<rect x="13.92" y="404.40" width="1.6" height="55.70" fill="#00BFFF"/>
<rect x="18.20" y="432.00" width="1.6" height="28.10" fill="#00BFFF"/>
<rect x="22.47" y="421.40" width="1.6" height="38.70" fill="#00BFFF"/>
<rect x="26.75" y="441.00" width="1.6" height="19.10" fill="#00BFFF"/>
<rect x="31.02" y="446.50" width="1.6" height="13.60" fill="#00BFFF"/>
<rect x="35.30" y="444.50" width="1.6" height="15.60" fill="#00BFFF"/>
<rect x="39.57" y="452.30" width="1.6" height="7.80" fill="#FFFF00"/>
<rect x="43.85" y="442.70" width="1.6" height="17.40" fill="#00BFFF"/>
<rect x="48.12" y="451.00" width="1.6" height="9.10" fill="#00BFFF"/>
<rect x="52.40" y="438.50" width="1.6" height="21.60" fill="#00BFFF"/>
<rect x="56.67" y="440.50" width="1.6" height="19.60" fill="#00BFFF"/>
<rect x="60.95" y="445.75" width="1.6" height="14.35" fill="#00BFFF"/>
<rect x="65.22" y="441.75" width="1.6" height="18.35" fill="#00BFFF"/>
<rect x="69.50" y="447.00" width="1.6" height="13.10" fill="#00BFFF"/>
<rect x="73.77" y="447.00" width="1.6" height="13.10" fill="#00BFFF"/>
<rect x="78.04" y="412.20" width="1.6" height="47.90" fill="#00BFFF"/>
<rect x="86.59" y="392.60" width="1.6" height="67.50" fill="#00BFFF"/>
<rect x="90.87" y="394.40" width="1.6" height="65.70" fill="#00FF00"/>
<rect x="95.14" y="409.40" width="1.6" height="50.70" fill="#00BFFF"/>
<rect x="99.42" y="412.20" width="1.6" height="47.90" fill="#00BFFF"/>
<rect x="103.69" y="370.60" width="1.6" height="89.50" fill="#00FF00"/>
<rect x="107.97" y="382.60" width="1.6" height="77.50" fill="#00FF00"/>
<rect x="112.24" y="364.30" width="1.6" height="95.80" fill="#00BFFF"/>
<rect x="116.52" y="395.10" width="1.6" height="65.00" fill="#00BFFF"/>
<rect x="120.79" y="419.70" width="1.6" height="40.40" fill="#00BFFF"/>
<rect x="125.07" y="426.70" width="1.6" height="33.40" fill="#00BFFF"/>
<rect x="129.34" y="434.70" width="1.6" height="25.40" fill="#00BFFF"/>
<rect x="133.62" y="426.00" width="1.6" height="34.10" fill="#00BFFF"/>
<rect x="137.89" y="438.20" width="1.6" height="21.90" fill="#00BFFF"/>
<rect x="142.17" y="453.30" width="1.6" height="6.80" fill="#FFFF00"/>
<rect x="146.44" y="440.50" width="1.6" height="19.60" fill="#00BFFF"/>
<rect x="150.71" y="441.00" width="1.6" height="19.10" fill="#00BFFF"/>
<rect x="154.99" y="434.00" width="1.6" height="26.10" fill="#00BFFF"/>
<rect x="159.26" y="435.20" width="1.6" height="24.90" fill="#00BFFF"/>
<rect x="163.54" y="438.20" width="1.6" height="21.90" fill="#00BFFF"/>
<rect x="167.81" y="433.50" width="1.6" height="26.60" fill="#00BFFF"/>
<rect x="172.09" y="439.70" width="1.6" height="20.40" fill="#00BFFF"/>
<rect x="176.36" y="437.20" width="1.6" height="22.90" fill="#00BFFF"/>
<rect x="180.64" y="423.40" width="1.6" height="36.70" fill="#00BFFF"/>
<rect x="184.91" y="387.10" width="1.6" height="73.00" fill="#00BFFF"/>
<rect x="189.19" y="392.10" width="1.6" height="68.00" fill="#00BFFF"/>
<rect x="193.46" y="412.20" width="1.6" height="47.90" fill="#00BFFF"/>
<rect x="197.74" y="410.70" width="1.6" height="49.40" fill="#00BFFF"/>
<rect x="202.01" y="407.20" width="1.6" height="52.90" fill="#00BFFF"/>
<rect x="206.29" y="396.40" width="1.6" height="63.70" fill="#00BFFF"/>
<rect x="210.56" y="388.10" width="1.6" height="72.00" fill="#00BFFF"/>
<rect x="214.84" y="363.80" width="1.6" height="96.30" fill="#FF0000"/>
<rect x="219.11" y="375.10" width="1.6" height="85.00" fill="#00BFFF"/>
<rect x="223.38" y="426.00" width="1.6" height="34.10" fill="#00BFFF"/>
<rect x="227.66" y="430.20" width="1.6" height="29.90" fill="#00BFFF"/>
<rect x="231.93" y="436.00" width="1.6" height="24.10" fill="#00BFFF"/>
<rect x="236.21" y="431.50" width="1.6" height="28.60" fill="#00BFFF"/>
<rect x="240.48" y="439.00" width="1.6" height="21.10" fill="#00BFFF"/>
<rect x="244.76" y="447.30" width="1.6" height="12.80" fill="#FFFF00"/>
<rect x="249.03" y="441.00" width="1.6" height="19.10" fill="#00BFFF"/>
<rect x="253.31" y="445.30" width="1.6" height="14.80" fill="#00BFFF"/>
<rect x="257.58" y="408.90" width="1.6" height="51.20" fill="#00BFFF"/>
<rect x="261.86" y="427.20" width="1.6" height="32.90" fill="#00BFFF"/>
<rect x="266.13" y="434.00" width="1.6" height="26.10" fill="#00BFFF"/>
<rect x="270.41" y="437.20" width="1.6" height="22.90" fill="#00BFFF"/>
<rect x="274.68" y="444.70" width="1.6" height="15.40" fill="#00BFFF"/>
<rect x="278.96" y="434.70" width="1.6" height="25.40" fill="#00BFFF"/>
<rect x="283.23" y="422.70" width="1.6" height="37.40" fill="#00BFFF"/>
<rect x="287.50" y="398.10" width="1.6" height="62.00" fill="#00FF00"/>
<rect x="291.78" y="413.20" width="1.6" height="46.90" fill="#00BFFF"/>
<rect x="296.05" y="415.20" width="1.6" height="44.90" fill="#00BFFF"/>
<rect x="300.33" y="413.20" width="1.6" height="46.90" fill="#00BFFF"/>
<rect x="304.60" y="412.70" width="1.6" height="47.40" fill="#00BFFF"/>
<rect x="308.88" y="370.10" width="1.6" height="90.00" fill="#FF0000"/>
<rect x="313.15" y="373.10" width="1.6" height="87.00" fill="#00BFFF"/>
<rect x="317.43" y="387.60" width="1.6" height="72.50" fill="#00BFFF"/>
<rect x="321.70" y="409.70" width="1.6" height="50.40" fill="#00BFFF"/>
<rect x="325.98" y="419.70" width="1.6" height="40.40" fill="#00BFFF"/>
<rect x="330.25" y="432.00" width="1.6" height="28.10" fill="#00BFFF"/>
<rect x="334.53" y="438.20" width="1.6" height="21.90" fill="#00BFFF"/>
<rect x="338.80" y="441.70" width="1.6" height="18.40" fill="#00BFFF"/>
<rect x="343.08" y="443.20" width="1.6" height="16.90" fill="#00BFFF"/>
<rect x="347.35" y="451.50" width="1.6" height="8.60" fill="#FFFF00"/>
<rect x="351.63" y="446.50" width="1.6" height="13.60" fill="#00BFFF"/>
<rect x="355.90" y="445.30" width="1.6" height="14.80" fill="#00BFFF"/>
<rect x="360.17" y="422.20" width="1.6" height="37.90" fill="#00BFFF"/>
<rect x="364.45" y="426.50" width="1.6" height="33.60" fill="#00BFFF"/>
<rect x="368.72" y="427.70" width="1.6" height="32.40" fill="#00BFFF"/>
<rect x="373.00" y="436.00" width="1.6" height="24.10" fill="#00BFFF"/>
<rect x="377.27" y="444.00" width="1.6" height="16.10" fill="#00BFFF"/>
<rect x="381.55" y="442.70" width="1.6" height="17.40" fill="#00BFFF"/>
<rect x="385.82" y="424.70" width="1.6" height="35.40" fill="#00BFFF"/>
<rect x="390.10" y="405.90" width="1.6" height="54.20" fill="#00BFFF"/>
<rect x="394.37" y="418.90" width="1.6" height="41.20" fill="#00BFFF"/>
<rect x="398.65" y="417.20" width="1.6" height="42.90" fill="#00BFFF"/>
<rect x="402.92" y="422.20" width="1.6" height="37.90" fill="#00FF00"/>
<rect x="415.75" y="387.60" width="1.6" height="72.50" fill="#00BFFF"/>
<rect x="424.30" y="405.20" width="1.6" height="54.90" fill="#00BFFF"/>
<rect x="428.57" y="429.00" width="1.6" height="31.10" fill="#00BFFF"/>
<rect x="432.84" y="385.10" width="1.6" height="75.00" fill="#00BFFF"/>
<rect x="437.12" y="433.20" width="1.6" height="26.90" fill="#00BFFF"/>
<rect x="441.39" y="443.20" width="1.6" height="16.90" fill="#00BFFF"/>
<rect x="445.67" y="457.30" width="1.6" height="2.80" fill="#FFFF00"/>
<rect x="449.94" y="437.20" width="1.6" height="22.90" fill="#00BFFF"/>
<rect x="454.22" y="435.20" width="1.6" height="24.90" fill="#00FF00"/>
<rect x="458.49" y="419.70" width="1.6" height="40.40" fill="#00BFFF"/>
<rect x="462.77" y="427.00" width="1.6" height="33.10" fill="#00BFFF"/>
<rect x="467.04" y="434.70" width="1.6" height="25.40" fill="#00BFFF"/>
<rect x="471.32" y="441.00" width="1.6" height="19.10" fill="#00BFFF"/>
<rect x="475.59" y="444.00" width="1.6" height="16.10" fill="#00BFFF"/>
<rect x="479.87" y="443.20" width="1.6" height="16.90" fill="#00BFFF"/>
<rect x="484.14" y="435.70" width="1.6" height="24.40" fill="#00BFFF"/>
<rect x="488.42" y="427.20" width="1.6" height="32.90" fill="#00BFFF"/>
<rect x="492.69" y="429.50" width="1.6" height="30.60" fill="#00BFFF"/>
<rect x="496.97" y="436.00" width="1.6" height="24.10" fill="#00BFFF"/>
<rect x="501.24" y="439.00" width="1.6" height="21.10" fill="#00BFFF"/>
<rect x="505.51" y="444.00" width="1.6" height="16.10" fill="#00BFFF"/>
<rect x="509.79" y="438.20" width="1.6" height="21.90" fill="#00BFFF"/>
<rect x="514.06" y="441.00" width="1.6" height="19.10" fill="#00BFFF"/>
<rect x="518.34" y="437.00" width="1.6" height="23.10" fill="#00BFFF"/>
<rect x="522.61" y="440.20" width="1.6" height="19.90" fill="#00BFFF"/>
<rect x="526.89" y="443.20" width="1.6" height="16.90" fill="#00BFFF"/>
<rect x="531.16" y="448.50" width="1.6" height="11.60" fill="#FFFF00"/>
<rect x="535.44" y="449.80" width="1.6" height="10.30" fill="#FFFF00"/>
<rect x="539.71" y="450.30" width="1.6" height="9.80" fill="#FFFF00"/>
<rect x="543.99" y="450.80" width="1.6" height="9.30" fill="#FFFF00"/>
<rect x="548.26" y="457.00" width="1.6" height="3.10" fill="#FFFF00"/>
<rect x="552.54" y="445.75" width="1.6" height="14.35" fill="#00BFFF"/>
<rect x="556.81" y="439.00" width="1.6" height="21.10" fill="#00BFFF"/>
<rect x="561.09" y="432.20" width="1.6" height="27.90" fill="#00BFFF"/>
<rect x="569.64" y="437.20" width="1.6" height="22.90" fill="#00BFFF"/>
<rect x="573.91" y="433.50" width="1.6" height="26.60" fill="#00BFFF"/>
<rect x="582.46" y="439.70" width="1.6" height="20.40" fill="#00BFFF"/>
<rect x="586.73" y="405.20" width="1.6" height="54.90" fill="#FF00FF"/>
<rect x="595.28" y="397.60" width="1.6" height="62.50" fill="#00BFFF"/>
<rect x="599.56" y="402.60" width="1.6" height="57.50" fill="#FF0000"/>
<rect x="603.83" y="412.20" width="1.6" height="47.90" fill="#00BFFF"/>
<rect x="608.11" y="401.40" width="1.6" height="58.70" fill="#00BFFF"/>
<rect x="612.38" y="394.60" width="1.6" height="65.50" fill="#00BFFF"/>
<rect x="616.66" y="393.40" width="1.6" height="66.70" fill="#00BFFF"/>
<rect x="625.21" y="373.30" width="1.6" height="86.80" fill="#00FF00"/>
<rect x="629.48" y="408.40" width="1.6" height="51.70" fill="#00BFFF"/>
<rect x="633.76" y="427.00" width="1.6" height="33.10" fill="#00BFFF"/>
<rect x="638.03" y="419.70" width="1.6" height="40.40" fill="#00BFFF"/>
<rect x="642.31" y="408.90" width="1.6" height="51.20" fill="#00BFFF"/>
<rect x="646.58" y="429.70" width="1.6" height="30.40" fill="#00BFFF"/>
<rect x="650.85" y="450.80" width="1.6" height="9.30" fill="#FFFF00"/>
<rect x="655.13" y="445.75" width="1.6" height="14.35" fill="#00BFFF"/>
<rect x="659.40" y="449.00" width="1.6" height="11.10" fill="#00BFFF"/>
<rect x="663.68" y="425.20" width="1.6" height="34.90" fill="#00BFFF"/>
<rect x="667.95" y="427.00" width="1.6" height="33.10" fill="#00BFFF"/>
<rect x="672.23" y="438.20" width="1.6" height="21.90" fill="#00BFFF"/>
<rect x="676.50" y="442.00" width="1.6" height="18.10" fill="#00BFFF"/>
<rect x="680.78" y="441.50" width="1.6" height="18.60" fill="#00BFFF"/>
<rect x="685.05" y="405.90" width="1.6" height="54.20" fill="#00BFFF"/>
<rect x="689.33" y="402.60" width="1.6" height="57.50" fill="#00BFFF"/>
<rect x="693.60" y="388.10" width="1.6" height="72.00" fill="#00BFFF"/>
<rect x="697.88" y="387.60" width="1.6" height="72.50" fill="#00BFFF"/>
<rect x="702.15" y="395.90" width="1.6" height="64.20" fill="#00BFFF"/>
<rect x="706.43" y="412.70" width="1.6" height="47.40" fill="#00BFFF"/>
<rect x="710.70" y="397.10" width="1.6" height="63.00" fill="#00BFFF"/>
<rect x="714.97" y="368.10" width="1.6" height="92.00" fill="#00FF00"/>
<rect x="719.25" y="389.60" width="1.6" height="70.50" fill="#00BFFF"/>
<rect x="723.52" y="321.00" width="1.6" height="139.10" fill="#FF0000"/>
<rect x="727.80" y="377.60" width="1.6" height="82.50" fill="#00BFFF"/>
<rect x="732.07" y="409.70" width="1.6" height="50.40" fill="#00BFFF"/>
<rect x="736.35" y="417.70" width="1.6" height="42.40" fill="#00BFFF"/>
<rect x="740.62" y="432.10" width="1.6" height="28.00" fill="#00BFFF"/>
<rect x="744.90" y="430.00" width="1.6" height="30.10" fill="#00BFFF"/>
<rect x="749.17" y="445.30" width="1.6" height="14.80" fill="#FFFF00"/>
<rect x="753.45" y="446.50" width="1.6" height="13.60" fill="#FFFF00"/>
<rect x="757.72" y="445.30" width="1.6" height="14.80" fill="#00BFFF"/>
<rect x="762.00" y="452.00" width="1.6" height="8.10" fill="#FFFF00"/>
<rect x="766.27" y="416.90" width="1.6" height="43.20" fill="#00BFFF"/>
<rect x="770.55" y="418.90" width="1.6" height="41.20" fill="#00BFFF"/>
<rect x="774.82" y="408.20" width="1.6" height="51.90" fill="#00BFFF"/>
<rect x="779.10" y="430.70" width="1.6" height="29.40" fill="#00BFFF"/>
<rect x="783.37" y="424.70" width="1.6" height="35.40" fill="#00BFFF"/>
<rect x="787.64" y="438.50" width="1.6" height="21.60" fill="#00BFFF"/>
<rect x="791.92" y="422.20" width="1.6" height="37.90" fill="#00BFFF"/>
<rect x="796.19" y="431.50" width="1.6" height="28.60" fill="#00BFFF"/>
<polyline points="2,417.5 11,417.5 13,416.6 17.5,416.6 20,417.5 25,417.5 27.5,418.5 32.5,419.4 80,419.4 85,418.75 92.5,418.1 100,417.5 109,417.5 112,416.6 120,416.6 125,417.5 128,418.1 138,419 146.75,419.4 150.5,420.4 184,420.4 190.5,419.3 222,419.1 228,419.75 240.5,422.25 243,422.5 256,422.75 263.5,422.1 287,421.9 291,421.5 301,421 316,420 321,419.4 326,419.4 331,420 338.5,421.5 353.5,422.25 358.5,422.25 368.5,421.5 376,421.25 382,422 384,421.9 394,421.25 421.5,420.6 434,420.25 437.75,421.5 466.5,421.5 469,420.6 496.5,420.4 500,419.6 506.5,420.6 512,421.7 522,422 530.75,423.25 537,424.8 544.5,426.2 579.5,426.2 587,425.4 594.5,424.5 599.5,424.25 618,423.9 622,423.25 629.5,422.6 632,422.6 640,423.9 651,424.1 652.5,424.75 671,424.75 673.75,424.1 693.75,424.25 700,423.25 705,422.6 720,422 725,421.4 730,420.5 732.5,420.5 737.5,421.4 742.5,422 750,422.4 751,422.75 778.5,422.75 781,421.9 797.25,421.9" fill="none" stroke="#9E3A3A" stroke-width="1.5" stroke-linejoin="round"/>
<rect x="1" y="1" width="1001" height="1" fill="#8c8c8c"/>
<rect x="1000" y="2" width="1" height="465" fill="#ececec"/>
<rect x="1001" y="1" width="1" height="467" fill="#959595"/>
<rect x="1" y="311.7" width="1001" height="2" fill="#7a7a7a"/>
<rect x="1" y="467.1" width="1001" height="1.6" fill="#a8a8a8"/>
<line x1="1002" y1="3.40" x2="1003" y2="3.40" stroke="#333" stroke-width="0.9"/>
<text x="1004.2" y="5.50" font-family="Liberation Sans, sans-serif" font-size="5.6" fill="#111" stroke="#111" stroke-width="0.12" textLength="17.8" lengthAdjust="spacingAndGlyphs">1.12365</text>
<line x1="1002" y1="21.46" x2="1003" y2="21.46" stroke="#333" stroke-width="0.9"/>
<text x="1004.2" y="23.56" font-family="Liberation Sans, sans-serif" font-size="5.6" fill="#111" stroke="#111" stroke-width="0.12" textLength="17.8" lengthAdjust="spacingAndGlyphs">1.12280</text>
<line x1="1002" y1="39.52" x2="1003" y2="39.52" stroke="#333" stroke-width="0.9"/>
<text x="1004.2" y="41.62" font-family="Liberation Sans, sans-serif" font-size="5.6" fill="#111" stroke="#111" stroke-width="0.12" textLength="17.8" lengthAdjust="spacingAndGlyphs">1.12195</text>
<line x1="1002" y1="57.58" x2="1003" y2="57.58" stroke="#333" stroke-width="0.9"/>
<text x="1004.2" y="59.68" font-family="Liberation Sans, sans-serif" font-size="5.6" fill="#111" stroke="#111" stroke-width="0.12" textLength="17.8" lengthAdjust="spacingAndGlyphs">1.12110</text>
<line x1="1002" y1="75.64" x2="1003" y2="75.64" stroke="#333" stroke-width="0.9"/>
<text x="1004.2" y="77.74" font-family="Liberation Sans, sans-serif" font-size="5.6" fill="#111" stroke="#111" stroke-width="0.12" textLength="17.8" lengthAdjust="spacingAndGlyphs">1.12025</text>
<line x1="1002" y1="93.70" x2="1003" y2="93.70" stroke="#333" stroke-width="0.9"/>
<text x="1004.2" y="95.80" font-family="Liberation Sans, sans-serif" font-size="5.6" fill="#111" stroke="#111" stroke-width="0.12" textLength="17.8" lengthAdjust="spacingAndGlyphs">1.11945</text>
<line x1="1002" y1="111.76" x2="1003" y2="111.76" stroke="#333" stroke-width="0.9"/>
<text x="1004.2" y="113.86" font-family="Liberation Sans, sans-serif" font-size="5.6" fill="#111" stroke="#111" stroke-width="0.12" textLength="17.8" lengthAdjust="spacingAndGlyphs">1.11860</text>
<line x1="1002" y1="129.82" x2="1003" y2="129.82" stroke="#333" stroke-width="0.9"/>
<text x="1004.2" y="131.92" font-family="Liberation Sans, sans-serif" font-size="5.6" fill="#111" stroke="#111" stroke-width="0.12" textLength="17.8" lengthAdjust="spacingAndGlyphs">1.11775</text>
<line x1="1002" y1="147.88" x2="1003" y2="147.88" stroke="#333" stroke-width="0.9"/>
<text x="1004.2" y="149.98" font-family="Liberation Sans, sans-serif" font-size="5.6" fill="#111" stroke="#111" stroke-width="0.12" textLength="17.8" lengthAdjust="spacingAndGlyphs">1.11690</text>
<line x1="1002" y1="165.94" x2="1003" y2="165.94" stroke="#333" stroke-width="0.9"/>
<text x="1004.2" y="168.04" font-family="Liberation Sans, sans-serif" font-size="5.6" fill="#111" stroke="#111" stroke-width="0.12" textLength="17.8" lengthAdjust="spacingAndGlyphs">1.11610</text>
<line x1="1002" y1="184.00" x2="1003" y2="184.00" stroke="#333" stroke-width="0.9"/>
<text x="1004.2" y="186.10" font-family="Liberation Sans, sans-serif" font-size="5.6" fill="#111" stroke="#111" stroke-width="0.12" textLength="17.8" lengthAdjust="spacingAndGlyphs">1.11525</text>
<line x1="1002" y1="202.06" x2="1003" y2="202.06" stroke="#333" stroke-width="0.9"/>
<text x="1004.2" y="204.16" font-family="Liberation Sans, sans-serif" font-size="5.6" fill="#111" stroke="#111" stroke-width="0.12" textLength="17.8" lengthAdjust="spacingAndGlyphs">1.11440</text>
<line x1="1002" y1="220.12" x2="1003" y2="220.12" stroke="#333" stroke-width="0.9"/>
<text x="1004.2" y="222.22" font-family="Liberation Sans, sans-serif" font-size="5.6" fill="#111" stroke="#111" stroke-width="0.12" textLength="17.8" lengthAdjust="spacingAndGlyphs">1.11355</text>
<line x1="1002" y1="238.18" x2="1003" y2="238.18" stroke="#333" stroke-width="0.9"/>
<text x="1004.2" y="240.28" font-family="Liberation Sans, sans-serif" font-size="5.6" fill="#111" stroke="#111" stroke-width="0.12" textLength="17.8" lengthAdjust="spacingAndGlyphs">1.11275</text>
<line x1="1002" y1="256.24" x2="1003" y2="256.24" stroke="#333" stroke-width="0.9"/>
<text x="1004.2" y="258.34" font-family="Liberation Sans, sans-serif" font-size="5.6" fill="#111" stroke="#111" stroke-width="0.12" textLength="17.8" lengthAdjust="spacingAndGlyphs">1.11190</text>
<line x1="1002" y1="274.30" x2="1003" y2="274.30" stroke="#333" stroke-width="0.9"/>
<text x="1004.2" y="276.40" font-family="Liberation Sans, sans-serif" font-size="5.6" fill="#111" stroke="#111" stroke-width="0.12" textLength="17.8" lengthAdjust="spacingAndGlyphs">1.11105</text>
<line x1="1002" y1="292.36" x2="1003" y2="292.36" stroke="#333" stroke-width="0.9"/>
<text x="1004.2" y="294.46" font-family="Liberation Sans, sans-serif" font-size="5.6" fill="#111" stroke="#111" stroke-width="0.12" textLength="17.8" lengthAdjust="spacingAndGlyphs">1.11020</text>
<line x1="1002" y1="310.42" x2="1003" y2="310.42" stroke="#333" stroke-width="0.9"/>
<text x="1004.2" y="312.52" font-family="Liberation Sans, sans-serif" font-size="5.6" fill="#111" stroke="#111" stroke-width="0.12" textLength="17.8" lengthAdjust="spacingAndGlyphs">1.10935</text>
<rect x="1002" y="51.0" width="22" height="5.6" fill="#000"/>
<text x="1004.2" y="55.9" font-family="Liberation Sans, sans-serif" font-size="5.6" fill="#fff" textLength="17.8" lengthAdjust="spacingAndGlyphs">1.12127</text>
<text x="1003.3" y="319.1" font-family="Liberation Sans, sans-serif" font-size="5.6" fill="#111" stroke="#111" stroke-width="0.12" textLength="14.9" lengthAdjust="spacingAndGlyphs">8019.9</text>
<text x="1003.6" y="461.6" font-family="Liberation Sans, sans-serif" font-size="5.6" fill="#111" stroke="#111" stroke-width="0.12" textLength="9.5" lengthAdjust="spacingAndGlyphs">0.00</text>
<text x="1003.6" y="465.6" font-family="Liberation Sans, sans-serif" font-size="5.6" fill="#111" stroke="#111" stroke-width="0.12" textLength="14" lengthAdjust="spacingAndGlyphs">-381.9</text>
<line x1="1002" y1="459.6" x2="1003.5" y2="459.6" stroke="#333" stroke-width="0.8"/>
<line x1="1.90" y1="467" x2="1.90" y2="469" stroke="#333" stroke-width="0.8"/>
<text x="1.40" y="474.6" font-family="Liberation Sans, sans-serif" font-size="5.8" fill="#111" stroke="#111" stroke-width="0.12" textLength="29.3" lengthAdjust="spacingAndGlyphs">23 May 2016</text>
<line x1="36.10" y1="467" x2="36.10" y2="469" stroke="#333" stroke-width="0.8"/>
<text x="35.60" y="474.6" font-family="Liberation Sans, sans-serif" font-size="5.8" fill="#111" stroke="#111" stroke-width="0.12" textLength="30.5" lengthAdjust="spacingAndGlyphs">23 May 22:00</text>
<line x1="70.30" y1="467" x2="70.30" y2="469" stroke="#333" stroke-width="0.8"/>
<text x="69.80" y="474.6" font-family="Liberation Sans, sans-serif" font-size="5.8" fill="#111" stroke="#111" stroke-width="0.12" textLength="30.5" lengthAdjust="spacingAndGlyphs">24 May 06:00</text>
<line x1="104.49" y1="467" x2="104.49" y2="469" stroke="#333" stroke-width="0.8"/>
<text x="103.99" y="474.6" font-family="Liberation Sans, sans-serif" font-size="5.8" fill="#111" stroke="#111" stroke-width="0.12" textLength="30.5" lengthAdjust="spacingAndGlyphs">24 May 14:00</text>
<line x1="138.69" y1="467" x2="138.69" y2="469" stroke="#333" stroke-width="0.8"/>
<text x="138.19" y="474.6" font-family="Liberation Sans, sans-serif" font-size="5.8" fill="#111" stroke="#111" stroke-width="0.12" textLength="30.5" lengthAdjust="spacingAndGlyphs">24 May 22:00</text>
<line x1="172.89" y1="467" x2="172.89" y2="469" stroke="#333" stroke-width="0.8"/>
<text x="172.39" y="474.6" font-family="Liberation Sans, sans-serif" font-size="5.8" fill="#111" stroke="#111" stroke-width="0.12" textLength="30.5" lengthAdjust="spacingAndGlyphs">25 May 06:00</text>
<line x1="207.09" y1="467" x2="207.09" y2="469" stroke="#333" stroke-width="0.8"/>
<text x="206.59" y="474.6" font-family="Liberation Sans, sans-serif" font-size="5.8" fill="#111" stroke="#111" stroke-width="0.12" textLength="30.5" lengthAdjust="spacingAndGlyphs">25 May 14:00</text>
<line x1="241.28" y1="467" x2="241.28" y2="469" stroke="#333" stroke-width="0.8"/>
<text x="240.78" y="474.6" font-family="Liberation Sans, sans-serif" font-size="5.8" fill="#111" stroke="#111" stroke-width="0.12" textLength="30.5" lengthAdjust="spacingAndGlyphs">25 May 22:00</text>
<line x1="275.48" y1="467" x2="275.48" y2="469" stroke="#333" stroke-width="0.8"/>
<text x="274.98" y="474.6" font-family="Liberation Sans, sans-serif" font-size="5.8" fill="#111" stroke="#111" stroke-width="0.12" textLength="30.5" lengthAdjust="spacingAndGlyphs">26 May 06:00</text>
<line x1="309.68" y1="467" x2="309.68" y2="469" stroke="#333" stroke-width="0.8"/>
<text x="309.18" y="474.6" font-family="Liberation Sans, sans-serif" font-size="5.8" fill="#111" stroke="#111" stroke-width="0.12" textLength="30.5" lengthAdjust="spacingAndGlyphs">26 May 14:00</text>
<line x1="343.88" y1="467" x2="343.88" y2="469" stroke="#333" stroke-width="0.8"/>
<text x="343.38" y="474.6" font-family="Liberation Sans, sans-serif" font-size="5.8" fill="#111" stroke="#111" stroke-width="0.12" textLength="30.5" lengthAdjust="spacingAndGlyphs">26 May 22:00</text>
<line x1="378.07" y1="467" x2="378.07" y2="469" stroke="#333" stroke-width="0.8"/>
<text x="377.57" y="474.6" font-family="Liberation Sans, sans-serif" font-size="5.8" fill="#111" stroke="#111" stroke-width="0.12" textLength="30.5" lengthAdjust="spacingAndGlyphs">27 May 06:00</text>
<line x1="412.27" y1="467" x2="412.27" y2="469" stroke="#333" stroke-width="0.8"/>
<text x="411.77" y="474.6" font-family="Liberation Sans, sans-serif" font-size="5.8" fill="#111" stroke="#111" stroke-width="0.12" textLength="30.5" lengthAdjust="spacingAndGlyphs">27 May 14:00</text>
<line x1="446.47" y1="467" x2="446.47" y2="469" stroke="#333" stroke-width="0.8"/>
<text x="445.97" y="474.6" font-family="Liberation Sans, sans-serif" font-size="5.8" fill="#111" stroke="#111" stroke-width="0.12" textLength="30.5" lengthAdjust="spacingAndGlyphs">29 May 23:00</text>
<line x1="480.67" y1="467" x2="480.67" y2="469" stroke="#333" stroke-width="0.8"/>
<text x="480.17" y="474.6" font-family="Liberation Sans, sans-serif" font-size="5.8" fill="#111" stroke="#111" stroke-width="0.12" textLength="30.5" lengthAdjust="spacingAndGlyphs">30 May 07:00</text>
<line x1="514.86" y1="467" x2="514.86" y2="469" stroke="#333" stroke-width="0.8"/>
<text x="514.36" y="474.6" font-family="Liberation Sans, sans-serif" font-size="5.8" fill="#111" stroke="#111" stroke-width="0.12" textLength="30.5" lengthAdjust="spacingAndGlyphs">30 May 15:00</text>
<line x1="549.06" y1="467" x2="549.06" y2="469" stroke="#333" stroke-width="0.8"/>
<text x="548.56" y="474.6" font-family="Liberation Sans, sans-serif" font-size="5.8" fill="#111" stroke="#111" stroke-width="0.12" textLength="30.5" lengthAdjust="spacingAndGlyphs">30 May 23:00</text>
<line x1="583.26" y1="467" x2="583.26" y2="469" stroke="#333" stroke-width="0.8"/>
<text x="582.76" y="474.6" font-family="Liberation Sans, sans-serif" font-size="5.8" fill="#111" stroke="#111" stroke-width="0.12" textLength="30.5" lengthAdjust="spacingAndGlyphs">31 May 07:00</text>
<line x1="617.46" y1="467" x2="617.46" y2="469" stroke="#333" stroke-width="0.8"/>
<text x="616.96" y="474.6" font-family="Liberation Sans, sans-serif" font-size="5.8" fill="#111" stroke="#111" stroke-width="0.12" textLength="30.5" lengthAdjust="spacingAndGlyphs">31 May 15:00</text>
<line x1="651.65" y1="467" x2="651.65" y2="469" stroke="#333" stroke-width="0.8"/>
<text x="651.15" y="474.6" font-family="Liberation Sans, sans-serif" font-size="5.8" fill="#111" stroke="#111" stroke-width="0.12" textLength="30.5" lengthAdjust="spacingAndGlyphs">31 May 23:00</text>
<line x1="685.85" y1="467" x2="685.85" y2="469" stroke="#333" stroke-width="0.8"/>
<text x="685.35" y="474.6" font-family="Liberation Sans, sans-serif" font-size="5.8" fill="#111" stroke="#111" stroke-width="0.12" textLength="26.0" lengthAdjust="spacingAndGlyphs">1 Jun 07:00</text>
<line x1="720.05" y1="467" x2="720.05" y2="469" stroke="#333" stroke-width="0.8"/>
<text x="719.55" y="474.6" font-family="Liberation Sans, sans-serif" font-size="5.8" fill="#111" stroke="#111" stroke-width="0.12" textLength="26.0" lengthAdjust="spacingAndGlyphs">1 Jun 15:00</text>
<line x1="754.25" y1="467" x2="754.25" y2="469" stroke="#333" stroke-width="0.8"/>
<text x="753.75" y="474.6" font-family="Liberation Sans, sans-serif" font-size="5.8" fill="#111" stroke="#111" stroke-width="0.12" textLength="26.0" lengthAdjust="spacingAndGlyphs">1 Jun 23:00</text>
<line x1="788.44" y1="467" x2="788.44" y2="469" stroke="#333" stroke-width="0.8"/>
<text x="787.94" y="474.6" font-family="Liberation Sans, sans-serif" font-size="5.8" fill="#111" stroke="#111" stroke-width="0.12" textLength="26.0" lengthAdjust="spacingAndGlyphs">2 Jun 07:00</text>
<path d="M3.2,4.7 L7.0,4.7 L5.1,6.6 Z" fill="#000"/>
<text x="10" y="7.6" font-family="Liberation Sans, sans-serif" font-size="5.8" fill="#111" stroke="#111" stroke-width="0.12" textLength="107.3" lengthAdjust="spacingAndGlyphs">EURUSD,H1&#160; 1.11936 1.12154 1.11904 1.12127</text>
<text x="3.8" y="319.7" font-family="Liberation Sans, sans-serif" font-size="5.8" fill="#111" stroke="#111" stroke-width="0.12" textLength="172.5" lengthAdjust="spacingAndGlyphs">Better Volume 1.4 0.0000 1585.0000 0.0000 0.0000 0.0000 0.0000 2109.0000</text>
<text x="883.2" y="22.6" font-family="Liberation Sans, sans-serif" font-size="20.9" fill="#FF0000" textLength="113.6" lengthAdjust="spacingAndGlyphs">EURUSD H1</text>
<text x="932.6" y="45.1" font-family="Liberation Sans, sans-serif" font-size="17.5" fill="#0000FF" textLength="65.6" lengthAdjust="spacingAndGlyphs">1.12127</text>
<text x="998" y="242.8" font-family="Liberation Sans, sans-serif" font-size="10.3" fill="#3a3aff" text-anchor="end">Time: 00:39:35</text>
<text x="918.8" y="258.5" font-family="Liberation Sans, sans-serif" font-size="10.4" fill="#1a1a1a" textLength="79.2" lengthAdjust="spacingAndGlyphs">Spread: 16 points</text>
</svg>
</body></html>
